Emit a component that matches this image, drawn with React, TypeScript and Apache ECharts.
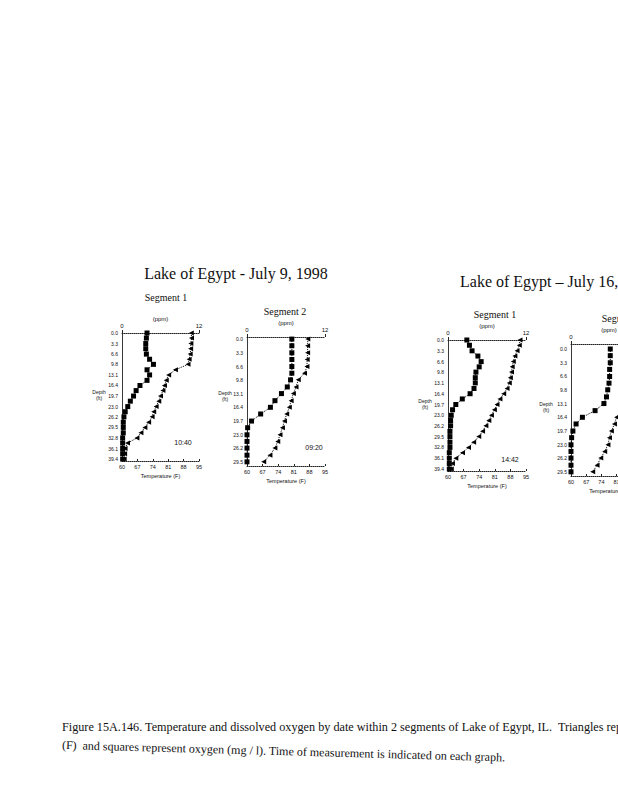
import React, { useEffect, useRef } from "react";
import * as echarts from "echarts";

// Depth of each reading (ft); readings every 0.5 m
const DEPTHS_DEEP = [0.0, 1.6, 3.3, 4.9, 6.6, 8.2, 9.8, 11.5, 13.1, 14.8, 16.4, 18.0, 19.7, 21.3, 23.0, 24.6, 26.2, 27.9, 29.5, 31.2, 32.8, 34.4, 36.1, 37.7, 39.4];
const DEPTHS_SHALLOW = [0.0, 1.6, 3.3, 4.9, 6.6, 8.2, 9.8, 11.5, 13.1, 14.8, 16.4, 18.0, 19.7, 21.3, 23.0, 24.6, 26.2, 27.9, 29.5];

// Tick labels
const DEPTH_TICKS_DEEP = [0.0, 3.3, 6.6, 9.8, 13.1, 16.4, 19.7, 23.0, 26.2, 29.5, 32.8, 36.1, 39.4];
const DEPTH_TICKS_SHALLOW = [0.0, 3.3, 6.6, 9.8, 13.1, 16.4, 19.7, 23.0, 26.2, 29.5];
const TEMP_TICKS = [60, 67, 74, 81, 88, 95];
const OXYGEN_TICKS = [0, 12];

// July 9, 1998 - Segment 1 (10:40)
const JUL9_SEG1_OXYGEN = [3.9, 3.8, 3.7, 3.7, 3.8, 4.3, 4.9, 3.9, 4.3, 3.9, 2.8, 2.2, 1.8, 1.3, 0.9, 0.5, 0.3, 0.2, 0.2, 0.2, 0.1, 0.1, 0.1, 0.1, 0.1];
const JUL9_SEG1_TEMP = [91.5, 91.6, 91.3, 91.2, 91.0, 90.5, 90.0, 84.3, 81.2, 80.1, 79.3, 78.6, 77.5, 76.7, 75.5, 74.4, 73.7, 72.1, 70.4, 68.6, 66.8, 62.5, 61.4, 61.2, 61.0];

// July 9, 1998 - Segment 2 (09:20)
const JUL9_SEG2_OXYGEN = [6.9, 6.9, 6.9, 6.9, 6.9, 6.9, 6.7, 6.2, 5.3, 4.3, 3.6, 2.1, 0.7, 0.1, 0.0, 0.0, 0.0, 0.0, 0.0];
const JUL9_SEG2_TEMP = [87.3, 87.2, 87.2, 87.0, 86.9, 85.8, 83.0, 82.0, 80.8, 79.8, 79.0, 77.8, 76.8, 75.9, 74.8, 73.8, 72.5, 70.3, 67.5];

// July 16, 1998 - Segment 1 (14:42)
const JUL16_SEG1_OXYGEN = [2.9, 3.3, 3.7, 4.6, 5.1, 4.8, 4.3, 4.2, 4.2, 4.0, 3.4, 2.2, 1.2, 0.7, 0.5, 0.4, 0.4, 0.3, 0.3, 0.3, 0.3, 0.2, 0.2, 0.2, 0.2];
const JUL16_SEG1_TEMP = [92.3, 92.0, 91.0, 90.0, 89.3, 88.8, 88.5, 88.0, 87.5, 86.5, 85.0, 83.3, 82.0, 80.8, 79.5, 78.3, 77.0, 75.5, 73.8, 71.5, 69.2, 66.5, 63.5, 62.0, 61.5];

// July 16, 1998 - Segment 2
const JUL16_SEG2_OXYGEN = [6.2, 6.2, 6.2, 6.1, 6.1, 6.0, 5.8, 5.6, 5.2, 3.8, 1.8, 0.8, 0.3, 0.1, 0.0, 0.0, 0.0, 0.0, 0.0];
const JUL16_SEG2_TEMP = [89.5, 89.5, 89.3, 89.0, 88.8, 88.5, 88.0, 87.0, 85.5, 83.3, 81.0, 80.0, 78.6, 77.7, 77.0, 75.5, 73.7, 72.0, 70.0];

const SEGMENT_NAMES = ["Segment 1", "Segment 2", "Segment 1", "Segment 2"];
const TIMES = ["10:40", "09:20", "14:42", ""];
const TITLES = ["Lake of Egypt - July 9, 1998", "Lake of Egypt – July 16, 1998"];
const CAPTION = [
  "Figure 15A.146. Temperature and dissolved oxygen by date within 2 segments of Lake of Egypt, IL.  Triangles represent temperature",
  "(F)  and squares represent oxygen (mg / l). Time of measurement is indicated on each graph.",
];

const PANELS = [
  { depths: DEPTHS_DEEP, oxygen: JUL9_SEG1_OXYGEN, temp: JUL9_SEG1_TEMP, ticks: DEPTH_TICKS_DEEP },
  { depths: DEPTHS_SHALLOW, oxygen: JUL9_SEG2_OXYGEN, temp: JUL9_SEG2_TEMP, ticks: DEPTH_TICKS_SHALLOW },
  { depths: DEPTHS_DEEP, oxygen: JUL16_SEG1_OXYGEN, temp: JUL16_SEG1_TEMP, ticks: DEPTH_TICKS_DEEP },
  { depths: DEPTHS_SHALLOW, oxygen: JUL16_SEG2_OXYGEN, temp: JUL16_SEG2_TEMP, ticks: DEPTH_TICKS_SHALLOW },
];

// Layout (pixels)
const LAYOUT = [
  { left: 122, top: 333, width: 77, height: 128, yMin: 0, yMax: 40, seg: [166, 297], time: [183, 442], depth: [99, 395] },
  { left: 247, top: 337, width: 78, height: 129, yMin: -0.5, yMax: 30.5, seg: [285, 311], time: [314, 447], depth: [225, 396] },
  { left: 448, top: 340, width: 78, height: 131, yMin: 0, yMax: 40, seg: [495, 314], time: [510, 459], depth: [425, 404] },
  { left: 571, top: 344, width: 76, height: 132, yMin: -1.2, yMax: 30.5, seg: [623, 318], time: [700, 460], depth: [546, 407] },
];

const SANS = '"Liberation Sans", Arial, sans-serif';
const SERIF = '"Liberation Serif", "Times New Roman", serif';
const INK = "#111";

function buildOption() {
  const grid: any[] = [];
  const xAxis: any[] = [];
  const yAxis: any[] = [];
  const series: any[] = [];
  const graphic: any[] = [];

  PANELS.forEach((p, i) => {
    const L = LAYOUT[i];
    grid.push({ left: L.left, top: L.top, width: L.width, height: L.height, containLabel: false });
    // bottom temperature axis
    xAxis.push({
      type: "value",
      gridIndex: i,
      position: "bottom",
      min: 60,
      max: 95,
      name: "Temperature (F)",
      nameLocation: "middle",
      nameGap: 12,
      nameTextStyle: { fontSize: 5.5, fontFamily: SANS, color: INK },
      axisLine: { show: true, onZero: false, lineStyle: { color: "#222", width: 1, type: "dotted" } },
      axisTick: { show: true, inside: true, length: 2, customValues: TEMP_TICKS, lineStyle: { color: "#222" } },
      axisLabel: { customValues: TEMP_TICKS, fontSize: 5.5, fontFamily: SANS, color: INK, margin: 3 },
      splitLine: { show: false },
    });
    // top oxygen axis
    xAxis.push({
      type: "value",
      gridIndex: i,
      position: "top",
      min: 0,
      max: 12,
      name: "(ppm)",
      nameLocation: "middle",
      nameGap: 10,
      nameTextStyle: { fontSize: 6, fontFamily: SANS, color: INK },
      axisLine: { show: true, onZero: false, lineStyle: { color: "#222", width: 1, type: "dotted" } },
      axisTick: { show: true, inside: false, length: 3, customValues: OXYGEN_TICKS, lineStyle: { color: "#222" } },
      axisLabel: { customValues: OXYGEN_TICKS, fontSize: 6, fontFamily: SANS, color: INK, margin: 4 },
      splitLine: { show: false },
    });
    yAxis.push({
      type: "value",
      gridIndex: i,
      inverse: true,
      min: L.yMin,
      max: L.yMax,
      axisLine: { show: true, onZero: false, lineStyle: { color: "#222", width: 0.9 } },
      axisTick: { show: false },
      axisLabel: {
        customValues: p.ticks,
        formatter: (v: number) => v.toFixed(1),
        fontSize: 5,
        fontFamily: SANS,
        color: INK,
        margin: 4,
      },
      splitLine: { show: false },
    });
    series.push({
      type: "line",
      xAxisIndex: 2 * i + 1,
      yAxisIndex: i,
      data: p.oxygen.map((o, k) => [o, p.depths[k]]),
      symbol: "rect",
      symbolSize: 5,
      showAllSymbol: true,
      clip: false,
      lineStyle: { color: "#000", width: 1, type: "dotted" },
      itemStyle: { color: "#000" },
    });
    series.push({
      type: "line",
      xAxisIndex: 2 * i,
      yAxisIndex: i,
      data: p.temp.map((t, k) => [t, p.depths[k]]),
      symbol: "triangle",
      symbolRotate: 90,
      symbolSize: 5,
      showAllSymbol: true,
      clip: false,
      lineStyle: { color: "#000", width: 1, type: "dotted" },
      itemStyle: { color: "#000" },
    });

    graphic.push({
      type: "text",
      x: L.seg[0],
      y: L.seg[1],
      style: { text: SEGMENT_NAMES[i], fontSize: 10, fontFamily: SERIF, fill: INK, align: "center", verticalAlign: "middle" },
    });
    if (TIMES[i]) {
      graphic.push({
        type: "text",
        x: L.time[0],
        y: L.time[1],
        style: { text: TIMES[i], fontSize: 7, fontFamily: SANS, fill: INK, align: "center", verticalAlign: "middle" },
      });
    }
    graphic.push({
      type: "text",
      x: L.depth[0],
      y: L.depth[1],
      style: { text: "Depth\n(ft)", fontSize: 5, lineHeight: 6, fontFamily: SANS, fill: INK, align: "center", verticalAlign: "middle" },
    });
  });

  graphic.push({
    type: "text",
    x: 236,
    y: 273,
    style: { text: TITLES[0], fontSize: 16, fontFamily: SERIF, fill: INK, align: "center", verticalAlign: "middle" },
  });
  graphic.push({
    type: "text",
    x: 460,
    y: 281,
    style: { text: TITLES[1], fontSize: 16, fontFamily: SERIF, fill: INK, align: "left", verticalAlign: "middle" },
  });
  graphic.push({
    type: "text",
    x: 62,
    y: 727,
    style: { text: CAPTION[0], fontSize: 12.2, fontFamily: SERIF, fill: INK, align: "left", verticalAlign: "middle" },
  });
  graphic.push({
    type: "text",
    x: 62,
    y: 745,
    rotation: -0.028,
    style: { text: CAPTION[1], fontSize: 12, fontFamily: SERIF, fill: INK, align: "left", verticalAlign: "middle" },
  });

  return {
    animation: false,
    backgroundColor: "#fff",
    grid,
    xAxis,
    yAxis,
    series,
    graphic,
  };
}

export default function App() {
  const ref = useRef<HTMLDivElement>(null);
  useEffect(() => {
    if (!ref.current) return;
    const chart = echarts.init(ref.current, undefined, { renderer: "svg" });
    chart.setOption(buildOption() as any);
    return () => chart.dispose();
  }, []);
  return (
    <div style={{ position: "absolute", left: 0, top: 0, width: 618, height: 800, overflow: "hidden", background: "#fff" }}>
      <div ref={ref} style={{ width: 720, height: 800 }} />
    </div>
  );
}
